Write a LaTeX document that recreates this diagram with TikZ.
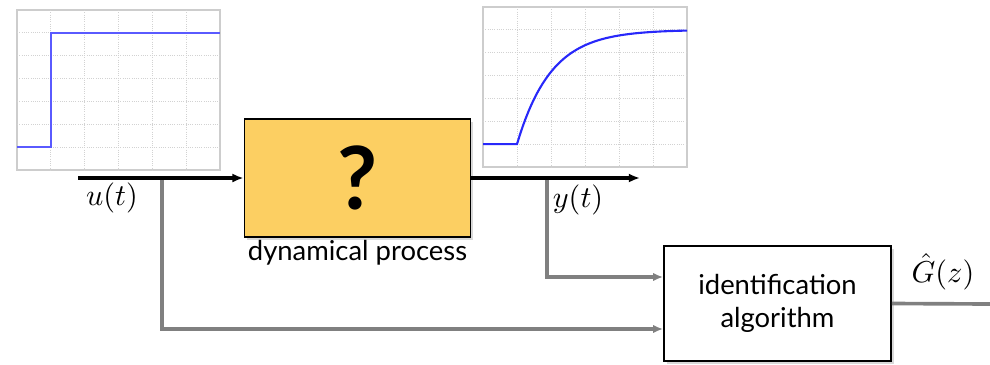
\documentclass[tikz,border=0pt]{standalone}
\usepackage{fontspec}
\newfontfamily\blockfont{Lato}
\definecolor{procyellow}{RGB}{252,207,98}
\definecolor{sigblue}{RGB}{40,40,250}
\definecolor{stepblue}{RGB}{90,90,255}
\definecolor{lngray}{RGB}{128,128,128}
\definecolor{gridgray}{RGB}{205,205,205}
\usetikzlibrary{arrows.meta,positioning,shadows,calc}

\begin{document}
\begin{tikzpicture}[x=0.025cm, y=-0.025cm,
  sigline/.style={line width=2.4pt, -{Latex[length=8pt,width=6.5pt]}},
  dataline/.style={lngray, line width=2.6pt, -{Latex[length=7pt,width=6pt]}},
  blockbox/.style={draw=black, line width=1.3pt,
    drop shadow={opacity=0.3, shadow xshift=2pt, shadow yshift=-2pt}},
  blocktext/.style={font=\blockfont\fontsize{19.5}{23}\selectfont},
  mathlabel/.style={scale=2.15, transform shape},
  plotframe/.style={draw=gridgray, line width=2pt, fill=white},
  plotgrid/.style={gridgray!90, densely dotted, line width=0.6pt}]
\useasboundingbox (0,0) rectangle (990,364);

% input signal u(t)
\draw[plotframe] (17,10) rectangle (220,170);
\foreach \c in {1,...,5}
  \draw[plotgrid] ({17+\c*203/6},10) -- ({17+\c*203/6},170);
\foreach \r in {1,...,6}
  \draw[plotgrid] (17,{10+\r*160/7}) -- (220,{10+\r*160/7});
\draw[stepblue, line width=1.4pt] (17,147) -- (50.8,147) -- (50.8,32.9) -- (220,32.9);

% output signal y(t)
\draw[plotframe] (483,7) rectangle (687,167);
\foreach \c in {1,...,5}
  \draw[plotgrid] ({483+\c*204/6},7) -- ({483+\c*204/6},167);
\foreach \r in {1,...,6}
  \draw[plotgrid] (483,{7+\r*160/7}) -- (687,{7+\r*160/7});
\draw[sigblue, line width=1.5pt] (483,144.1) -- (517,144.1)
  -- plot[domain=517:687, samples=60] (\x, {144.1-114.3*(1-exp(-(\x-517)/34))});

% blocks
\node[blockbox, fill=procyellow, minimum width=5.65cm, minimum height=2.95cm,
      font=\blockfont\bfseries\fontsize{62}{62}\selectfont] (proc) at (357.5,178) {?};
\node[blocktext, below=-2pt of proc] (proclabel) {dynamical process};
\node[blockbox, fill=white, minimum width=5.675cm, minimum height=2.875cm,
      align=center, blocktext] (ident) at (777.5,303.5) {identification\\algorithm};

\coordinate (uin) at (78,178);
\coordinate (ubranch) at (162,178);
\coordinate (ybranch) at (547,178);
\coordinate (yout) at (640,178);
\coordinate (gout) at (990,304);

% measured data to the identification
\draw[dataline] (ybranch) |- ($(ident.west)+(0,-26.5)$);
\draw[dataline] (ubranch) |- ($(ident.west)+(0,25.5)$);
\draw[lngray, line width=2.6pt] (ident.east) -- (gout);

% process input and output
\draw[sigline] (uin) -- (proc.west);
\draw[sigline] (proc.east) -- (yout);

\node[mathlabel] (ulabel) at (112,198) {$u(t)$};
\node[mathlabel] (ylabel) at (578,200) {$y(t)$};
\node[mathlabel] (glabel) at (943,272) {$\hat{G}(z)$};
\end{tikzpicture}
\end{document}
